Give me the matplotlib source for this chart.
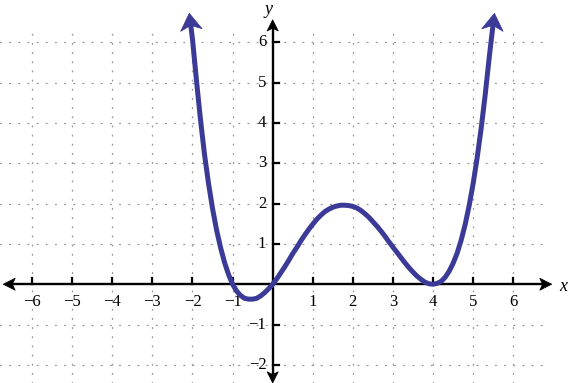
import numpy as np
import matplotlib
matplotlib.use("Agg")
import matplotlib.pyplot as plt
import matplotlib.patches as patches

# curve points
curve_x = [-2.08, -2.0, -1.9, -1.8, -1.7, -1.6, -1.5, -1.4, -1.3, -1.2, -1.1,
           -1.0, -0.9, -0.8, -0.7, -0.6, -0.5, -0.4, -0.3, -0.2, -0.1,
           0.0, 0.1, 0.2, 0.3, 0.4, 0.5, 0.6, 0.7, 0.8, 0.9,
           1.0, 1.1, 1.2, 1.3, 1.4, 1.5, 1.6, 1.7, 1.8, 1.9,
           2.0, 2.1, 2.2, 2.3, 2.4, 2.5, 2.6, 2.7, 2.8, 2.9,
           3.0, 3.1, 3.2, 3.3, 3.4, 3.5, 3.6, 3.7, 3.8, 3.9,
           4.0, 4.1, 4.2, 4.3, 4.4, 4.5, 4.6, 4.7, 4.8, 4.9,
           5.0, 5.1, 5.2, 5.3, 5.4, 5.45, 5.53]
curve_y = [6.72, 6.08, 5.05, 4.08, 3.22, 2.50, 1.88, 1.35, 0.91, 0.54, 0.24,
           0.0, -0.17, -0.28, -0.35, -0.37, -0.37, -0.35, -0.29, -0.21, -0.11,
           0.0, 0.13, 0.28, 0.43, 0.59, 0.76, 0.91, 1.07, 1.22, 1.36,
           1.49, 1.61, 1.71, 1.80, 1.86, 1.91, 1.94, 1.96, 1.96, 1.95,
           1.93, 1.89, 1.83, 1.75, 1.66, 1.55, 1.44, 1.32, 1.19, 1.05,
           0.92, 0.79, 0.66, 0.53, 0.41, 0.30, 0.20, 0.12, 0.05, 0.01,
           0.0, 0.02, 0.07, 0.17, 0.32, 0.52, 0.77, 1.09, 1.48, 1.95,
           2.50, 3.14, 3.87, 4.70, 5.62, 6.05, 6.72]

x_ticks = [-6, -5, -4, -3, -2, -1, 1, 2, 3, 4, 5, 6]
y_ticks = [-2, -1, 1, 2, 3, 4, 5, 6]

CURVE = '#3b3b97'
GRID = '#9a9a9a'
SERIF = 'Liberation Serif'

XMIN, XMAX = -6.80, 7.39
YMIN, YMAX = -2.45, 7.05


def arrow_head(ax, tip, back, length, half_w, notch, color, z):
    """Stealth-style arrow head pointing from `back` towards `tip`."""
    tip = np.asarray(tip, float)
    d = tip - np.asarray(back, float)
    d /= np.hypot(*d)
    n = np.array([-d[1], d[0]])
    base = tip - d * length
    pts = [tip, base + n * half_w, tip - d * (length - notch), base - n * half_w]
    ax.add_patch(patches.Polygon(pts, closed=True, facecolor=color,
                                 edgecolor=color, linewidth=0.5, zorder=z))


def minus(v):
    return str(v).replace('-', '\u2212')


fig = plt.figure(figsize=(5.69, 3.83), dpi=100)
ax = fig.add_axes([0, 0, 1, 1])
ax.set_xlim(XMIN, XMAX)
ax.set_ylim(YMIN, YMAX)
ax.axis('off')

# dotted grid
for gx in x_ticks:
    ax.plot([gx, gx], [YMIN, 6.38], color=GRID, lw=1.0,
            linestyle=(0, (0.6, 6.0)), dash_capstyle='round', zorder=1)
for gy in y_ticks:
    ax.plot([XMIN, 6.74], [gy, gy], color=GRID, lw=1.0,
            linestyle=(0, (0.6, 6.0)), dash_capstyle='round', zorder=1)

# axes with arrows
ax.plot([-6.55, 6.8], [0, 0], color='black', lw=1.7, zorder=3,
        solid_capstyle='butt')
ax.plot([0, 0], [-2.3, 6.4], color='black', lw=1.7, zorder=3,
        solid_capstyle='butt')
arrow_head(ax, (-6.72, 0), (0, 0), 0.3, 0.15, 0.07, 'black', 3)
arrow_head(ax, (6.96, 0), (0, 0), 0.3, 0.15, 0.07, 'black', 3)
arrow_head(ax, (0, 6.56), (0, 0), 0.28, 0.14, 0.07, 'black', 3)
arrow_head(ax, (0, -2.45), (0, 0), 0.28, 0.14, 0.07, 'black', 3)

# ticks and labels
for t in x_ticks:
    ax.plot([t, t], [0, 0.16], color='black', lw=1.6, zorder=3)
    ax.text(t, -0.43, minus(t), ha='center', va='center',
            fontsize=12, family=SERIF, zorder=2)
for t in y_ticks:
    ax.plot([0, 0.16], [t, t], color='black', lw=1.6, zorder=3)
    ax.text(-0.16, t, minus(t), ha='right', va='center',
            fontsize=12, family=SERIF, zorder=2)

ax.text(7.24, -0.05, 'x', ha='center', va='center', fontsize=13,
        family=SERIF, style='italic')
ax.text(-0.11, 6.82, 'y', ha='center', va='center', fontsize=13,
        family=SERIF, style='italic')

# curve, trimmed under the arrow heads
cx = np.array(curve_x)
cy = np.array(curve_y)
head_len = 0.42
pts = np.column_stack([cx, cy])
start_tip, start_back = pts[0], pts[1]
end_tip, end_back = pts[-1], pts[-2]


def cut(tip, back, k):
    d = tip - back
    d = d / np.hypot(*d)
    return tip - d * k


body = np.vstack([cut(start_tip, start_back, head_len * 0.7),
                  pts[1:-1],
                  cut(end_tip, end_back, head_len * 0.7)])
ax.plot(body[:, 0], body[:, 1], color=CURVE, lw=3.6, zorder=4,
        solid_capstyle='butt', solid_joinstyle='round')
arrow_head(ax, start_tip, start_back, head_len, 0.27, 0.12, CURVE, 5)
arrow_head(ax, end_tip, end_back, head_len, 0.27, 0.12, CURVE, 5)

fig.savefig('out.png', dpi=100)
